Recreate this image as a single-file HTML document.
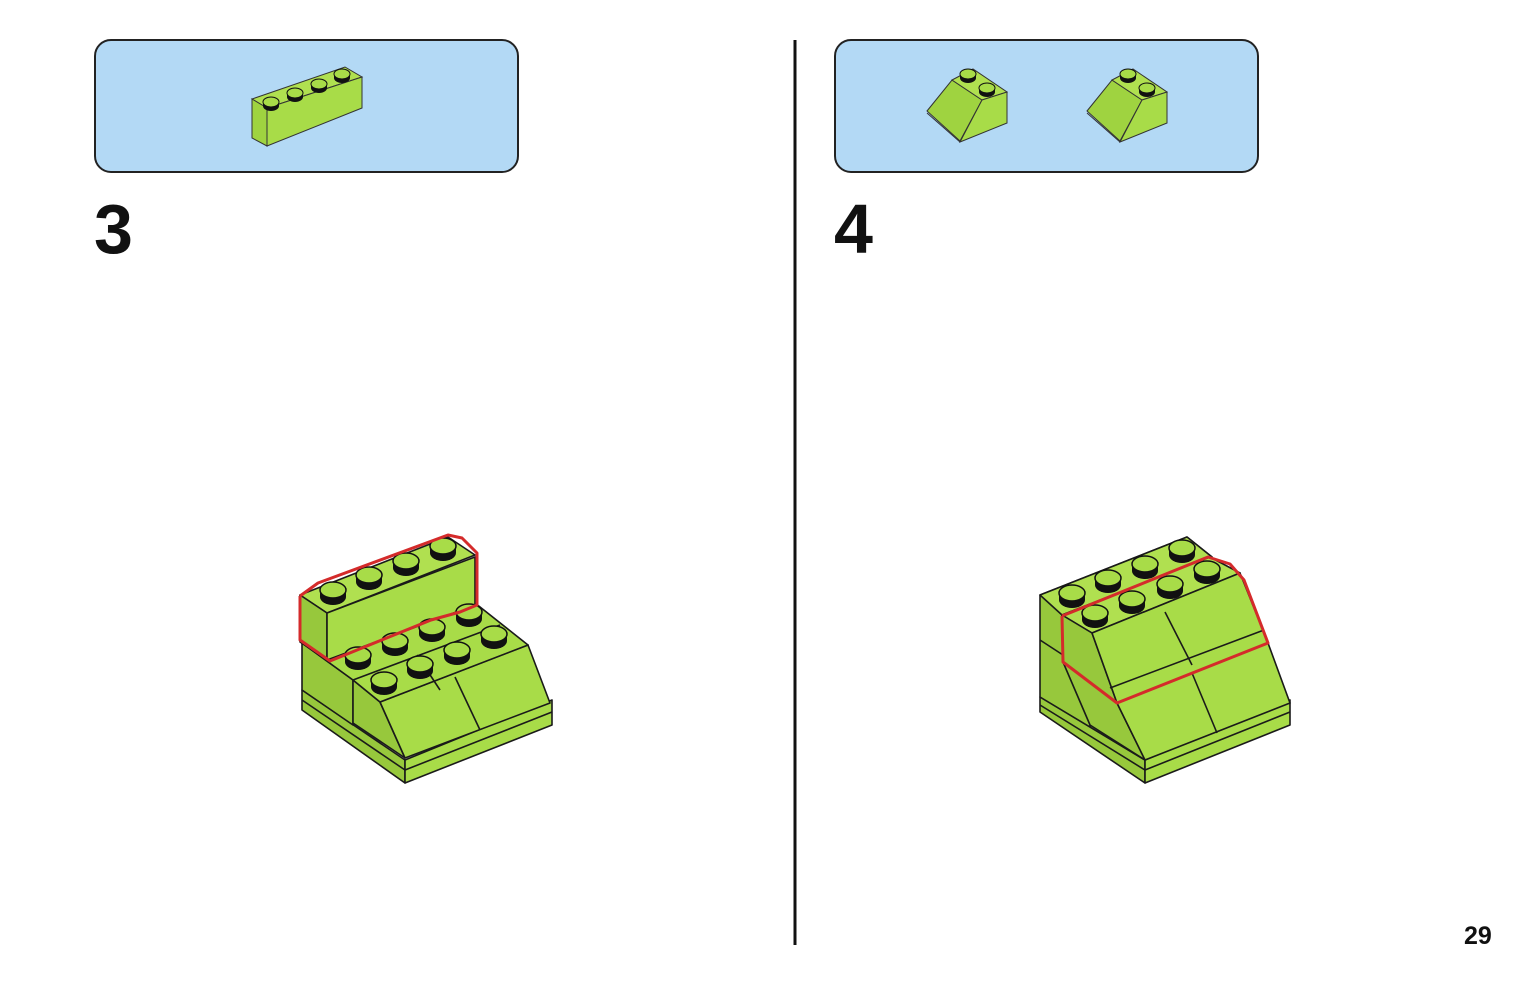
<!DOCTYPE html>
<html><head><meta charset="utf-8"><style>
html,body{margin:0;padding:0;background:#fff;width:1535px;height:984px;overflow:hidden}
svg{display:block}
text{font-family:"Liberation Sans",sans-serif;font-weight:bold;fill:#111}
</style></head><body>
<svg width="1535" height="984" viewBox="0 0 1535 984" xmlns="http://www.w3.org/2000/svg">
<defs>
<g id="s">
<ellipse cx="0" cy="7" rx="13" ry="8" fill="#111"/>
<rect x="-13" y="0" width="26" height="7" fill="#111"/>
<ellipse cx="0" cy="0" rx="13" ry="8" fill="#a8dc48" stroke="#111" stroke-width="1.5"/>
</g>
<g id="ss">
<ellipse cx="0" cy="4" rx="8" ry="5" fill="#111"/>
<rect x="-8" y="0" width="16" height="4" fill="#111"/>
<ellipse cx="0" cy="0" rx="8" ry="5" fill="#a8dc48" stroke="#111" stroke-width="1"/>
</g>
<g id="slope">
<polygon points="927,111 952,80 982,100 960,141" fill="#9fd340" stroke="#333" stroke-width="1"/>
<polygon points="952,80 973,69 1007,92 982,100" fill="#b0e050" stroke="#333" stroke-width="1"/>
<polygon points="982,100 1007,92 1007,123 960,142" fill="#a8dc48" stroke="#333" stroke-width="1"/>
<line x1="927" y1="113" x2="960" y2="142" stroke="#333"/>
<use href="#ss" x="968" y="74"/>
<use href="#ss" x="987" y="88"/>
</g>
</defs>

<rect x="95" y="40" width="423" height="132" rx="16" fill="#b3d9f5" stroke="#222" stroke-width="2"/>
<rect x="835" y="40" width="423" height="132" rx="16" fill="#b3d9f5" stroke="#222" stroke-width="2"/>

<polygon points="252,99 345,67 362,77 267,108" fill="#b0e050" stroke="#333" stroke-width="1"/>
<polygon points="252,99 267,108 267,146 252,138" fill="#9fd340" stroke="#333" stroke-width="1"/>
<polygon points="267,108 362,77 362,108 267,146" fill="#a8dc48" stroke="#333" stroke-width="1"/>
<use href="#ss" x="271" y="102"/>
<use href="#ss" x="295" y="93"/>
<use href="#ss" x="319" y="84"/>
<use href="#ss" x="342" y="74"/>

<use href="#slope"/>
<use href="#slope" x="160"/>

<line x1="795" y1="40" x2="795" y2="945" stroke="#111" stroke-width="3"/>

<text x="94" y="253" font-size="70">3</text>
<text x="834" y="253" font-size="70">4</text>
<text x="1464" y="944" font-size="25">29</text>

<!-- STEP 3 -->
<g stroke="#1a1a1a" stroke-width="1.6" stroke-linejoin="round">
<polygon points="302,690 405,760 405,783 302,710" fill="#97c83c"/>
<polygon points="405,760 552,700 552,725 405,783" fill="#a8dc48"/>
<line x1="302" y1="700" x2="405" y2="770"/><line x1="405" y1="770" x2="552" y2="712"/>
<polygon points="302,643 353,680 353,725 302,690" fill="#97c83c"/>
<path d="M353,680 L380,702 L405,758 L353,723 Z" fill="#97c83c"/>
<polygon points="380,702 528,645 550,703 405,758" fill="#a8dc48"/>
<line x1="455" y1="677" x2="480" y2="730"/>
<polygon points="327,660 475,603 528,645 380,702 353,680 302,643" fill="#a8dc48"/>
<line x1="353" y1="680" x2="500" y2="625"/>
<line x1="417" y1="655" x2="440" y2="690"/>
<polygon points="300,595 448,537 475,555 327,613" fill="#b0e050"/>
<polygon points="300,595 327,613 327,660 300,642" fill="#97c83c"/>
<polygon points="327,613 475,557 475,605 327,660" fill="#a8dc48"/>
</g>
<use href="#s" x="358" y="655"/><use href="#s" x="395" y="641"/><use href="#s" x="432" y="627"/><use href="#s" x="469" y="612"/>
<use href="#s" x="384" y="680"/><use href="#s" x="420" y="664"/><use href="#s" x="457" y="650"/><use href="#s" x="494" y="634"/>
<use href="#s" x="333" y="590"/><use href="#s" x="369" y="575"/><use href="#s" x="406" y="561"/><use href="#s" x="443" y="546"/>
<polyline points="300,596 318,583 448,535 462,538 477,553 477,605 460,612 431,620 330,661 300,640 300,596" fill="none" stroke="#d42b2b" stroke-width="3" stroke-linejoin="round"/>

<!-- STEP 4 -->
<g stroke="#1a1a1a" stroke-width="1.6" stroke-linejoin="round">
<polygon points="1040,697 1145,760 1145,783 1040,712" fill="#97c83c"/>
<polygon points="1145,760 1290,700 1290,725 1145,783" fill="#a8dc48"/>
<line x1="1040" y1="705" x2="1145" y2="770"/><line x1="1145" y1="770" x2="1290" y2="712"/>
<polygon points="1040,595 1187,537 1212,557 1062,615 1063,662 1117,703 1145,760 1040,697" fill="#97c83c"/>
<line x1="1040" y1="640" x2="1063" y2="655"/>
<line x1="1090" y1="687" x2="1090" y2="727"/>
<path d="M1063,662 L1117,703 L1145,760 L1090,725 Z" fill="#97c83c"/>
<polygon points="1117,703 1268,643 1290,703 1145,760" fill="#a8dc48"/>
<line x1="1192" y1="673" x2="1217" y2="733"/>
<polygon points="1040,595 1187,537 1212,557 1062,615" fill="#b0e050"/>
<polygon points="1062,615 1210,557 1240,573 1092,633" fill="#b0e050"/>
<polygon points="1062,615 1092,633 1117,703 1063,662" fill="#97c83c"/>
<polygon points="1092,633 1240,573 1268,643 1117,703" fill="#a8dc48"/>
<line x1="1110" y1="688" x2="1264" y2="630"/>
<line x1="1165" y1="612" x2="1192" y2="665"/>
</g>
<use href="#s" x="1072" y="593"/><use href="#s" x="1108" y="578"/><use href="#s" x="1145" y="564"/><use href="#s" x="1182" y="548"/>
<use href="#s" x="1095" y="613"/><use href="#s" x="1132" y="599"/><use href="#s" x="1170" y="584"/><use href="#s" x="1207" y="569"/>
<polyline points="1062,616 1208,557 1230,564 1244,580 1268,643 1117,703 1063,662 1062,616" fill="none" stroke="#d42b2b" stroke-width="3" stroke-linejoin="round"/>
</svg>
</body></html>
